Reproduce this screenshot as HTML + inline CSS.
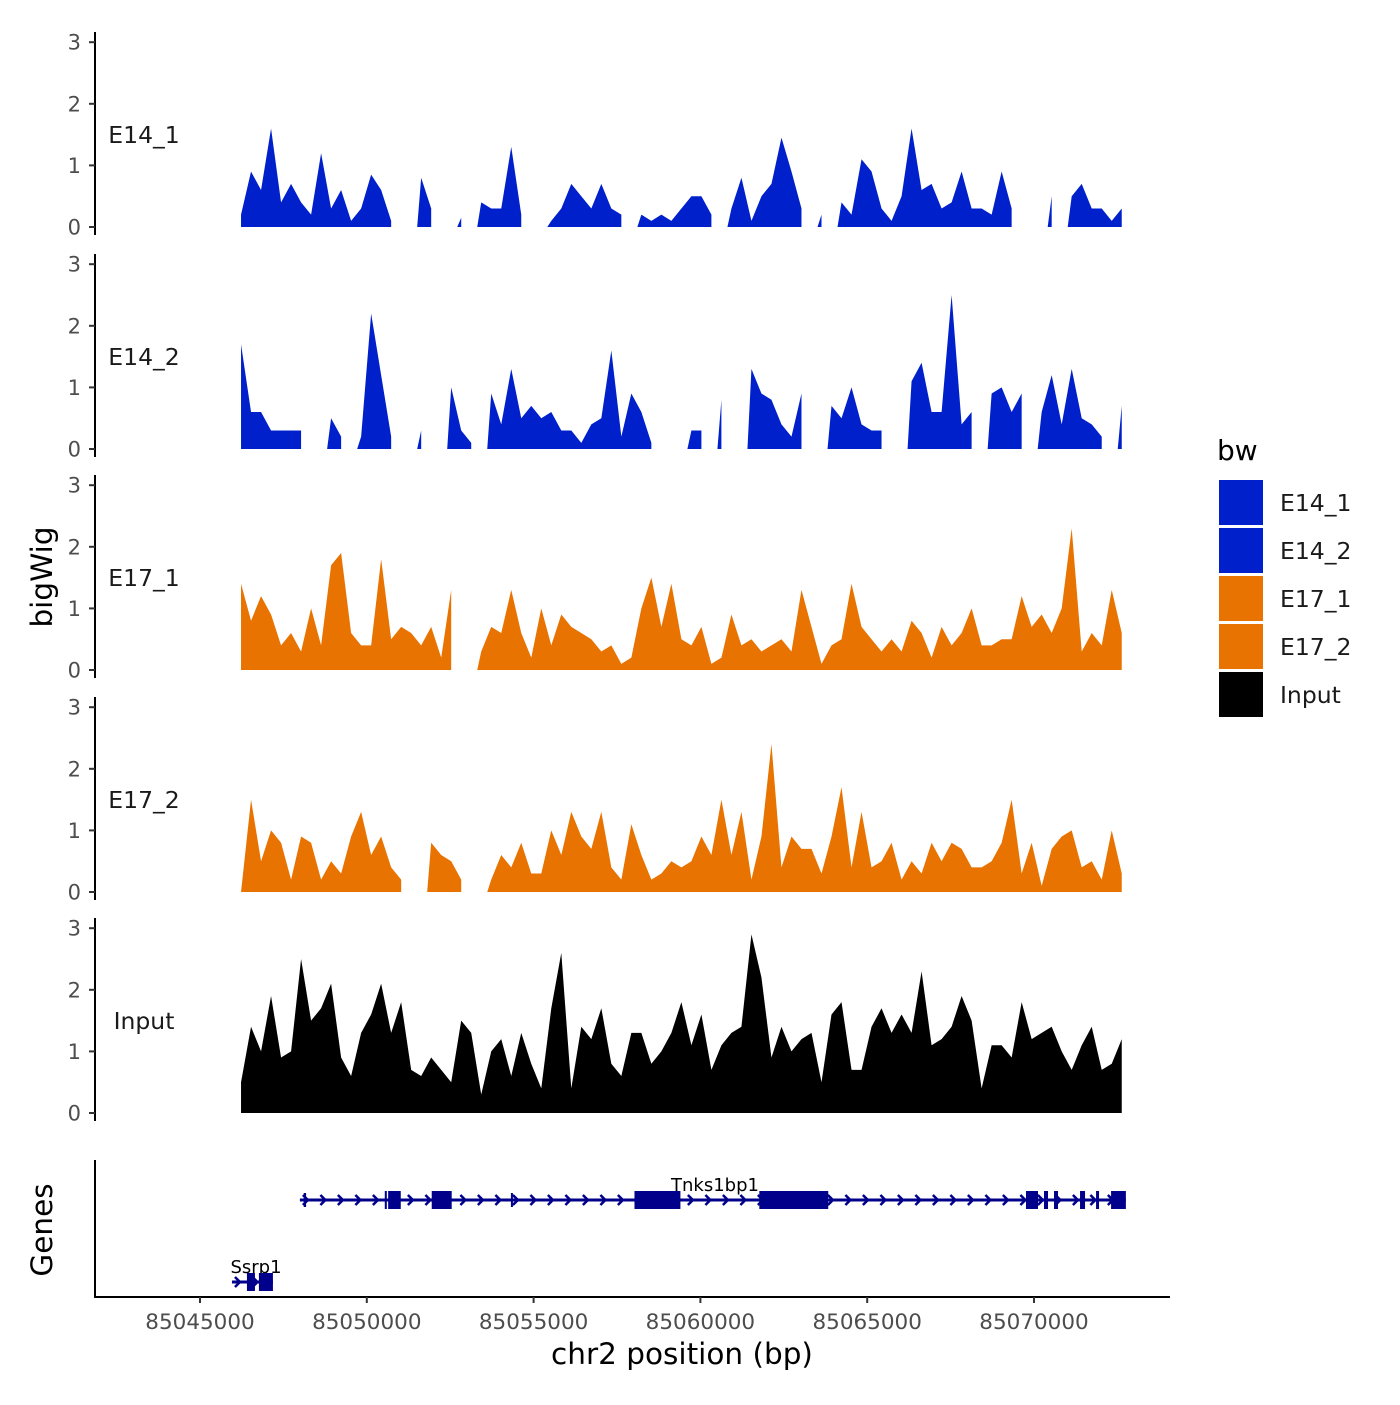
<!DOCTYPE html>
<html><head><meta charset="utf-8"><style>
body{margin:0;background:#fff}
svg text{font-family:"DejaVu Sans","Liberation Sans",sans-serif}
</style></head><body>
<svg id="chart" width="1400" height="1400" viewBox="0 0 1400 1400" xmlns="http://www.w3.org/2000/svg">
<rect width="1400" height="1400" fill="#fff"/>
</svg>
<script>
const trackNames = ["E14_1","E14_2","E17_1","E17_2","Input"];
const trackColors = ["#0020CC","#0020CC","#E87300","#E87300","#000000"];
const startBp = 85046230;
const stepBp = 300;
const e14_1 = [0.2,0.9,0.6,1.6,0.4,0.7,0.4,0.2,1.2,0.3,0.6,0.1,0.3,0.85,0.6,0.1,null,null,0.8,0.3,null,null,0.15,null,0.4,0.3,0.3,1.3,0.2,null,null,0.1,0.3,0.7,0.5,0.3,0.7,0.3,0.2,null,0.2,0.1,0.2,0.1,0.3,0.5,0.5,0.2,null,0.3,0.8,0.1,0.5,0.7,1.45,0.9,0.3,null,0.2,null,0.4,0.2,1.1,0.9,0.3,0.1,0.5,1.6,0.6,0.7,0.3,0.4,0.9,0.3,0.3,0.2,0.9,0.3,null,null,null,0.5,null,0.5,0.7,0.3,0.3,0.1,0.3];
const e14_2 = [1.7,0.6,0.6,0.3,0.3,0.3,0.3,null,null,0.5,0.2,null,0.2,2.2,1.2,0.2,null,null,0.3,null,null,1.0,0.3,0.1,null,0.9,0.4,1.3,0.5,0.7,0.5,0.6,0.3,0.3,0.1,0.4,0.5,1.6,0.2,0.9,0.6,0.1,null,null,null,0.3,0.3,null,0.8,null,null,1.3,0.9,0.8,0.4,0.2,0.9,null,null,0.7,0.5,1.0,0.4,0.3,0.3,null,null,1.1,1.4,0.6,0.6,2.5,0.4,0.6,null,0.9,1.0,0.6,0.9,null,0.6,1.2,0.4,1.3,0.5,0.4,0.2,null,0.7];
const e17_1 = [1.4,0.8,1.2,0.9,0.4,0.6,0.3,1.0,0.4,1.7,1.9,0.6,0.4,0.4,1.8,0.5,0.7,0.6,0.4,0.7,0.2,1.3,null,null,0.3,0.7,0.6,1.3,0.6,0.2,1.0,0.4,0.9,0.7,0.6,0.5,0.3,0.4,0.1,0.2,1.0,1.5,0.7,1.4,0.5,0.4,0.7,0.1,0.2,0.9,0.4,0.5,0.3,0.4,0.5,0.3,1.3,0.7,0.1,0.4,0.5,1.4,0.7,0.5,0.3,0.5,0.3,0.8,0.6,0.2,0.7,0.4,0.6,1.0,0.4,0.4,0.5,0.5,1.2,0.7,0.9,0.6,1.0,2.3,0.3,0.6,0.4,1.3,0.6];
const e17_2 = [0.0,1.5,0.5,1.0,0.8,0.2,0.9,0.8,0.2,0.5,0.3,0.9,1.3,0.6,0.9,0.4,0.2,null,null,0.8,0.6,0.5,0.2,null,null,0.2,0.6,0.4,0.8,0.3,0.3,1.0,0.6,1.3,0.9,0.7,1.3,0.4,0.2,1.1,0.6,0.2,0.3,0.5,0.4,0.5,0.9,0.6,1.5,0.6,1.3,0.2,0.9,2.4,0.4,0.9,0.7,0.7,0.3,0.9,1.7,0.4,1.3,0.4,0.5,0.8,0.2,0.5,0.3,0.8,0.5,0.8,0.7,0.4,0.4,0.5,0.8,1.5,0.3,0.8,0.1,0.7,0.9,1.0,0.4,0.5,0.2,1.0,0.3];
const input = [0.5,1.4,1.0,1.9,0.9,1.0,2.5,1.5,1.7,2.1,0.9,0.6,1.3,1.6,2.1,1.3,1.8,0.7,0.6,0.9,0.7,0.5,1.5,1.3,0.3,1.0,1.2,0.6,1.3,0.8,0.4,1.7,2.6,0.4,1.4,1.2,1.7,0.8,0.6,1.3,1.3,0.8,1.0,1.3,1.8,1.1,1.6,0.7,1.1,1.3,1.4,2.9,2.2,0.9,1.4,1.0,1.2,1.3,0.5,1.6,1.8,0.7,0.7,1.4,1.7,1.3,1.6,1.3,2.3,1.1,1.2,1.4,1.9,1.5,0.4,1.1,1.1,0.9,1.8,1.2,1.3,1.4,1.0,0.7,1.1,1.4,0.7,0.8,1.2];
const trackValues = [e14_1,e14_2,e17_1,e17_2,input];
const yTicks = [0,1,2,3];
const xTicks = [85045000,85050000,85055000,85060000,85065000,85070000];
const geneNames = ["Tnks1bp1","Ssrp1"];
const geneStart = [85047994,85045958];
const geneEnd = [85072754,85047186];
const exonGene = [0,0,0,0,0,0,0,0,0,0,0,0,0,1,1];
const exonStart = [85048110,85050539,85050640,85051946,85054320,85058024,85061766,85069760,85070300,85070600,85071380,85071860,85072310,85046407,85046766];
const exonEnd = [85048180,85050600,85051018,85052545,85054370,85059401,85063832,85070120,85070420,85070720,85071530,85071950,85072754,85046647,85047186];
const exonThin = [1,0,0,0,1,0,0,0,0,0,0,0,0,0,0];

const NS="http://www.w3.org/2000/svg";
const svg=document.getElementById('chart');
function mk(t,a,p){const e=document.createElementNS(NS,t);for(const k in a)e.setAttribute(k,a[k]);(p||svg).appendChild(e);return e;}
const xS=bp=>200+(bp-85045000)*(834/25000);
const panelBase=[227,449,670,892,1113];
const perUnit=61.6;

trackValues.forEach((vals,ti)=>{
  const base=panelBase[ti];
  const yS=v=>base-v*perUnit;
  const g=mk('g',{});
  
  
  const ax=mk('line',{x1:95,x2:95,y1:base-195,y2:base+8,stroke:'#000','stroke-width':2},g);
  
  
  yTicks.forEach(t=>{
    mk('line',{x1:89,x2:95,y1:yS(t),y2:yS(t),stroke:'#333','stroke-width':2},g);
    const tx=mk('text',{x:81,y:yS(t)+7.5,'text-anchor':'end','font-size':21,fill:'#4d4d4d'},g);
    tx.textContent=t;
    
    
  });
  const lab=mk('text',{x:144,y:base-84,'text-anchor':'middle','font-size':23.5,fill:'#1a1a1a'},g);
  lab.textContent=trackNames[ti];
  
  
  let seg=[];
  const flush=()=>{
    if(seg.length>0){
      let d='M'+seg[0][0]+','+base;
      seg.forEach(p=>d+=' L'+p[0]+','+p[1]);
      d+=' L'+seg[seg.length-1][0]+','+base+' Z';
      const p=mk('path',{d:d,fill:trackColors[ti]},g);
      
      
    }
    seg=[];
  };
  vals.forEach((v,i)=>{
    const x=xS(startBp+i*stepBp);
    if(v===null){flush();}
    else{ if(seg.length===0 && i>0) seg.push([x-4,yS(0)]); seg.push([x,yS(v)]); }
  });
  flush();
});

const gg=mk('g',{});


mk('line',{x1:95,x2:95,y1:1160,y2:1298,stroke:'#000','stroke-width':2},gg);
const geneY=[1200,1282];
geneNames.forEach((n,gi)=>{
  const y=geneY[gi];
  const x1=xS(geneStart[gi]),x2=xS(geneEnd[gi]);
  const ln=mk('line',{x1:x1,x2:x2,y1:y,y2:y,stroke:'#00008B','stroke-width':3},gg);
  
  
  for(let x=x1+6;x<x2-4;x+=17.5){
    mk('polyline',{points:(x-3)+','+(y-5)+' '+(x+2)+','+y+' '+(x-3)+','+(y+5),fill:'none',stroke:'#00008B','stroke-width':2.5},gg);
  }
  const lt=mk('text',{x:gi==0?715:256,y:y-9,'text-anchor':'middle','font-size':18,fill:'#000'},gg);
  lt.textContent=n;
  
  
});
exonStart.forEach((s,i)=>{
  const y=geneY[exonGene[i]];
  const x1=xS(s),x2=xS(exonEnd[i]);
  const h=exonThin[i]?14:18;
  const r=mk('rect',{x:x1,y:y-h/2,width:Math.max(2,x2-x1),height:h,fill:'#00008B'},gg);
  
  
});

const xa=mk('line',{x1:94,x2:1170,y1:1297,y2:1297,stroke:'#000','stroke-width':2});


xTicks.forEach(t=>{
  mk('line',{x1:xS(t),x2:xS(t),y1:1297,y2:1303,stroke:'#333','stroke-width':2});
  const tx=mk('text',{x:xS(t),y:1329,'text-anchor':'middle','font-size':21.5,fill:'#4d4d4d'});
  tx.textContent=t;
  
  
});
</script>
<svg style="position:absolute;left:0;top:0" width="1400" height="1400">
<text x="682" y="1364" text-anchor="middle" font-size="29.5" fill="#000">chr2 position (bp)</text>
<text transform="translate(52,577) rotate(-90)" text-anchor="middle" font-size="29.5" fill="#000">bigWig</text>
<text transform="translate(52,1230) rotate(-90)" text-anchor="middle" font-size="29.5" fill="#000">Genes</text>
<g>
<text x="1217" y="460" font-size="28">bw</text>
<rect x="1219" y="480" width="44" height="45" fill="#0020CC"/>
<rect x="1219" y="528" width="44" height="45" fill="#0020CC"/>
<rect x="1219" y="576" width="44" height="45" fill="#E87300"/>
<rect x="1219" y="624" width="44" height="45" fill="#E87300"/>
<rect x="1219" y="672" width="44" height="45" fill="#000"/>
<text x="1280" y="511" font-size="23.5" fill="#1a1a1a">E14_1</text>
<text x="1280" y="559" font-size="23.5" fill="#1a1a1a">E14_2</text>
<text x="1280" y="607" font-size="23.5" fill="#1a1a1a">E17_1</text>
<text x="1280" y="655" font-size="23.5" fill="#1a1a1a">E17_2</text>
<text x="1280" y="703" font-size="23.5" fill="#1a1a1a">Input</text>
</g>
</svg>
</body></html>
